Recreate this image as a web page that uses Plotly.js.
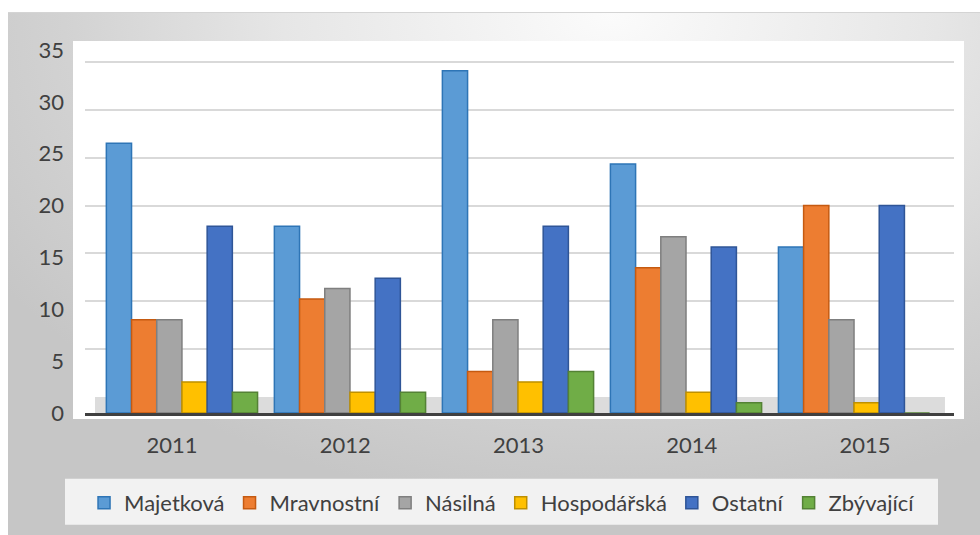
<!DOCTYPE html>
<html>
<head>
<meta charset="utf-8">
<script src="https://cdn.plot.ly/plotly-3.0.1.min.js"></script>
<style>
  html, body { margin: 0; padding: 0; background: #ffffff; }
  #frame {
    position: absolute; left: 8px; top: 12px; width: 972px; height: 523px;
    border-top: 1px solid #d4d4d4; box-sizing: border-box;
    background: radial-gradient(ellipse 75% 95% at 62% 0%, #fbfbfb 0%, #e6e6e6 45%, #d2d2d2 75%, #c6c6c6 100%);
  }
  #chart { position: absolute; left: 0; top: 0; width: 980px; height: 535px; }
</style>
</head>
<body>
<div id="frame"></div>
<div id="chart"></div>
<script>
// ---- data ----
const years = ['2011', '2012', '2013', '2014', '2015'];
const seriesNames = ['Majetková', 'Mravnostní', 'Násilná', 'Hospodářská', 'Ostatní', 'Zbývající'];
const majetkova   = [26, 18, 33, 24, 16];
const mravnostni  = [9, 11, 4, 14, 20];
const nasilna     = [9, 12, 9, 17, 9];
const hospodarska = [3, 2, 3, 2, 1];
const ostatni     = [18, 13, 18, 16, 20];
const zbyvajici   = [2, 2, 4, 1, 0];
const yTicks = [0, 5, 10, 15, 20, 25, 30, 35];

const seriesValues = [majetkova, mravnostni, nasilna, hospodarska, ostatni, zbyvajici];
const fills = ['#5B9BD5', '#ED7D31', '#A5A5A5', '#FFC000', '#4472C4', '#70AD47'];
const lines = ['#2E75B6', '#C55A11', '#7F7F7F', '#BF9000', '#2F5597', '#548235'];

const xIdx = years.map((_, i) => i);

const traces = seriesNames.map((name, k) => ({
  type: 'bar',
  name: name,
  x: xIdx,
  y: seriesValues[k],
  marker: { color: fills[k], line: { color: lines[k], width: 1.5 } },
  hoverinfo: 'skip'
}));

const fam = 'Lato, "Open Sans", sans-serif';
const txt = { family: fam, size: 22, color: '#404040' };

const layout = {
  width: 980, height: 535,
  margin: { l: 85, r: 26, t: 41, b: 121 },
  paper_bgcolor: 'rgba(0,0,0,0)',
  plot_bgcolor: 'rgba(0,0,0,0)',
  font: txt,
  barmode: 'group',
  bargap: 0.1,
  bargroupgap: 0,
  showlegend: true,
  legend: {
    orientation: 'h', x: 0.4799, xanchor: 'center', y: -0.2386, yanchor: 'middle',
    bgcolor: 'rgba(0,0,0,0)', font: txt,
    traceorder: 'normal', itemclick: false
  },
  xaxis: {
    type: 'linear', range: [-0.577, 4.595],
    showticklabels: false, ticks: '', showgrid: false, zeroline: false,
    showline: true, linecolor: '#404040', linewidth: 3
  },
  xaxis2: {
    type: 'linear', overlaying: 'x', anchor: 'y', side: 'bottom',
    range: [-0.502, 4.514],
    tickvals: xIdx, ticktext: years, ticks: '',
    showgrid: false, zeroline: false, showline: false,
    ticklabelstandoff: 17,
    tickfont: txt
  },
  yaxis: {
    range: [0, 35.87], tickvals: yTicks, ticks: '',
    showgrid: false, zeroline: false, showline: false,
    ticklabelstandoff: 20,
    tickfont: txt
  },
  yaxis2: {
    overlaying: 'y', side: 'left', range: [-1.667, 37.19],
    tickvals: yTicks.slice(1), showticklabels: false, ticks: '',
    showgrid: true, gridcolor: '#d9d9d9', gridwidth: 2, zeroline: false, showline: false
  },
  shapes: [
    { type: 'rect', xref: 'paper', yref: 'paper', x0: -0.0138, x1: 1.0115, y0: -0.0161, y1: 1,
      fillcolor: '#ffffff', line: { width: 0 }, layer: 'below' },
    { type: 'rect', xref: 'paper', yref: 'paper', x0: 0.0115, x1: 0.9896, y0: 0, y1: 0.0429,
      fillcolor: '#dcdcdc', line: { width: 0 }, layer: 'below' },
    { type: 'rect', xref: 'paper', yref: 'paper', x0: -0.0230, x1: 0.9816, y0: -0.3003, y1: -0.1769,
      fillcolor: '#f2f2f2', line: { width: 0 }, layer: 'below' }
  ]
};

// invisible trace to activate the overlay axes
traces.push({ type: 'scatter', x: [xIdx[0]], y: [yTicks[0]], xaxis: 'x2', yaxis: 'y2',
  mode: 'markers', marker: { opacity: 0 }, showlegend: false, hoverinfo: 'skip' });

Plotly.newPlot('chart', traces, layout, { staticPlot: true, displayModeBar: false });
</script>
</body>
</html>
